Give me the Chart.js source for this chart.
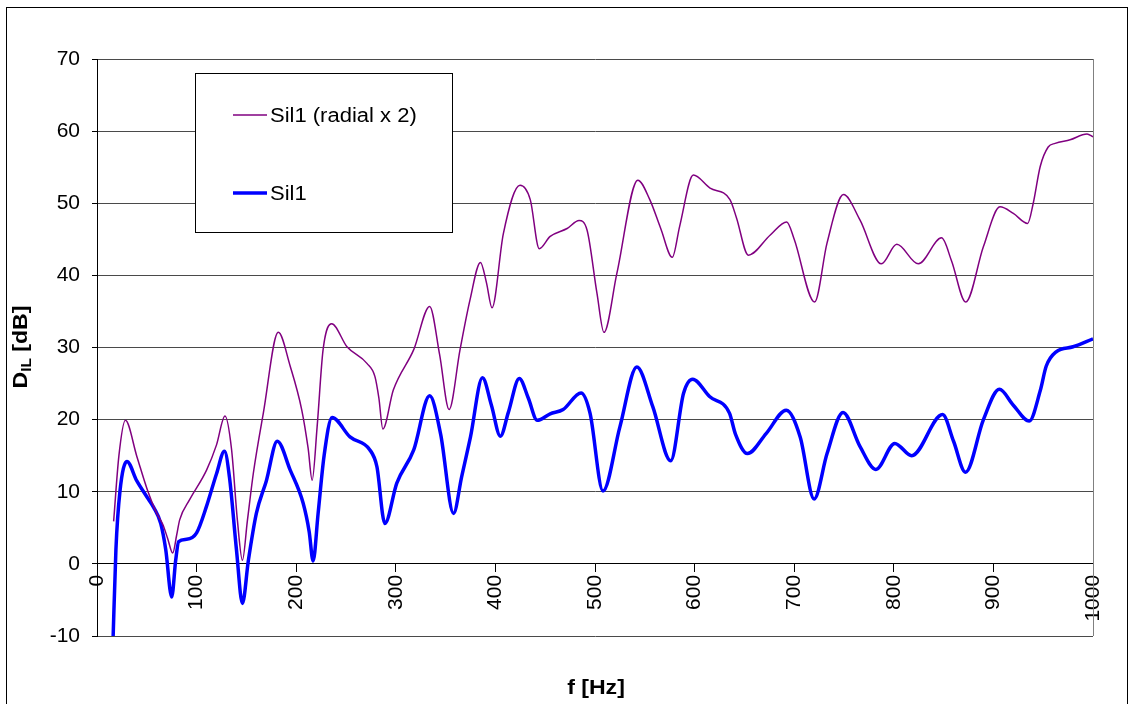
<!DOCTYPE html>
<html>
<head>
<meta charset="utf-8">
<script src="https://cdn.jsdelivr.net/npm/chart.js@4/dist/chart.umd.min.js"></script>
<style>
  body { margin: 0; background: #fff; }
  #wrap { width: 1132px; height: 704px; }
</style>
</head>
<body>
<div id="wrap"><canvas id="myChart" width="1132" height="704"></canvas></div>
<script>
// data
const radialFreq = [16.7, 22, 28.5, 40, 50, 60, 66, 71, 76, 80, 83, 93, 110, 120, 128.5, 135, 141, 146, 151, 157, 167, 182, 194, 205.5, 212, 216, 221, 227, 235.6, 251, 271, 279, 283, 287, 297.5, 318, 334, 344, 353.5, 364.5, 374.5, 385, 391, 396.6, 408, 424.7, 435, 444, 455, 472, 484, 492, 502, 509, 522, 543, 555, 566, 577.6, 585, 598.7, 615.5, 635.5, 642, 654, 676, 692.5, 700, 720.5, 733, 749.5, 766, 787.5, 803, 824.6, 848, 858, 872.2, 890, 906.6, 920, 934.4, 940, 947, 955, 962, 977, 994, 1000];
const radialValues = [5.9, 15, 19.9, 14.9, 10.5, 7, 5.5, 3.5, 1.5, 4, 6.1, 8.9, 13.0, 16.5, 20.5, 16, 6, 0.5, 6, 12.6, 20.9, 32.1, 27.4, 21.4, 16, 11.6, 19, 29.7, 33.3, 30.1, 27.8, 26.0, 23, 18.7, 24.1, 29.7, 35.7, 29, 21.4, 29.7, 36.6, 41.8, 39, 35.5, 45.8, 52.5, 50.5, 43.7, 45.4, 46.5, 47.6, 46.3, 37.5, 32.1, 40.3, 53.2, 50.5, 46.5, 42.5, 46.8, 53.9, 52.1, 50.5, 48, 42.8, 45.6, 47.4, 45, 36.3, 44.5, 51.2, 47.7, 41.6, 44.3, 41.6, 45.2, 42, 36.3, 44, 49.5, 48.6, 47.2, 50, 55.1, 57.8, 58.3, 58.8, 59.6, 59.2];

const sil1Freq = [16, 19, 23, 30, 40, 50, 57, 64, 69, 75, 79, 82, 90, 100, 110, 120, 128, 133, 140, 146, 152, 160, 170, 181, 194, 207, 213, 217, 222, 228, 236, 254, 274, 281, 289, 301, 318, 334, 345, 358, 366, 375, 387, 396, 405, 413, 424, 433, 442, 455, 468, 486, 495, 508, 525, 542, 558, 576, 589, 598, 615, 635, 641, 653, 672, 692, 706, 720, 733, 749, 766, 782, 801, 818, 849, 860, 872, 890, 906, 920, 936, 947, 953, 963, 980, 1000];
const sil1Values = [-11, 2, 10, 14.2, 11.5, 9.3, 7.8, 5.6, 2, -4.6, 0.5, 3.1, 3.4, 4.3, 8, 12.5, 15.6, 12, 2, -5.5, 0.5, 7, 11.5, 17.0, 13.0, 8.4, 4.5, 0.4, 7, 15, 20.3, 17.6, 15.8, 13.5, 5.6, 11.2, 15.8, 23.3, 18, 7.0, 12, 17.6, 25.8, 22, 17.7, 21, 25.7, 23, 19.9, 20.8, 21.4, 23.7, 20.9, 10.1, 19.0, 27.3, 21.8, 14.3, 23.7, 25.6, 23.2, 20.9, 18, 15.3, 18.1, 21.3, 17.6, 9.0, 15.3, 21.0, 16.3, 13.1, 16.7, 15.0, 20.7, 17, 12.7, 20, 24.2, 22, 19.8, 24, 27.4, 29.4, 30.1, 31.2];

const seriesNames = ["Sil1 (radial x 2)", "Sil1"];
const seriesColors = ["#800080", "#0000ff"];
const seriesWidths = [1.5, 3.5];

const yMin = -10, yMax = 70, yStep = 10;
const xMin = 0, xMax = 1000, xStep = 100;

const toPoints = (xs, ys) => xs.map((x, i) => ({ x: x, y: ys[i] }));

const FONT = "'Liberation Sans', Arial, sans-serif";
const STRETCH = 1.1; // the original text is a little wide

// borders, titles and the boxed legend
const decor = {
  id: "decor",
  beforeDraw(chart) {
    const c = chart.ctx;
    c.save();
    c.fillStyle = "#fff";
    c.fillRect(0, 0, chart.width, chart.height);
    c.strokeStyle = "#000";
    c.lineWidth = 1;
    c.strokeRect(6.5, 7.5, 1121, 720);
    c.restore();
  },
  afterDraw(chart) {
    const c = chart.ctx;
    const a = chart.chartArea;
    c.save();
    // right edge of plot area
    c.strokeStyle = "#808080";
    c.lineWidth = 1;
    c.beginPath();
    c.moveTo(Math.round(a.right) + 0.5, a.top);
    c.lineTo(Math.round(a.right) + 0.5, a.bottom);
    c.stroke();

    // legend box
    c.fillStyle = "#fff";
    c.fillRect(195.5, 73.5, 257, 159);
    c.strokeStyle = "#000";
    c.strokeRect(195.5, 73.5, 257, 159);
    const rows = [115, 193];
    c.font = "20px " + FONT;
    c.textBaseline = "middle";
    c.textAlign = "left";
    rows.forEach((y, i) => {
      c.strokeStyle = seriesColors[i];
      c.lineWidth = seriesWidths[i];
      c.beginPath();
      c.moveTo(233, y);
      c.lineTo(267, y);
      c.stroke();
      c.fillStyle = "#000";
      c.save();
      c.translate(270, y + 1);
      c.scale(STRETCH, 1);
      c.fillText(seriesNames[i], 0, 0);
      c.restore();
    });

    // x title
    c.save();
    c.fillStyle = "#000";
    c.font = "bold 21px " + FONT;
    c.textAlign = "center";
    c.textBaseline = "middle";
    c.translate(596, 688);
    c.scale(STRETCH, 1);
    c.fillText("f [Hz]", 0, 0);
    c.restore();

    // y title with subscript
    c.fillStyle = "#000";
    c.translate(21, 347);
    c.rotate(-Math.PI / 2);
    c.scale(STRETCH, 1);
    const big = "bold 21px " + FONT, small = "bold 14px " + FONT;
    c.font = big; const wD = c.measureText("D").width;
    c.font = small; const wIL = c.measureText("IL").width;
    c.font = big; const wRest = c.measureText(" [dB]").width;
    let x = -(wD + wIL + wRest) / 2;
    c.textAlign = "left";
    c.textBaseline = "middle";
    c.font = big; c.fillText("D", x, 0); x += wD;
    c.font = small; c.fillText("IL", x, 6); x += wIL;
    c.font = big; c.fillText(" [dB]", x, 0);
    c.restore();
  }
};

const ctx = document.getElementById("myChart").getContext("2d");
const myChart = new Chart(ctx, {
  type: "line",
  data: {
    datasets: [
      {
        label: seriesNames[0],
        data: toPoints(radialFreq, radialValues),
        borderColor: seriesColors[0],
        borderWidth: seriesWidths[0],
        pointRadius: 0,
        cubicInterpolationMode: "monotone",
        fill: false
      },
      {
        label: seriesNames[1],
        data: toPoints(sil1Freq, sil1Values),
        borderColor: seriesColors[1],
        borderWidth: seriesWidths[1],
        pointRadius: 0,
        cubicInterpolationMode: "monotone",
        fill: false
      }
    ]
  },
  options: {
    responsive: false,
    animation: false,
    layout: { padding: { left: 0, top: 59, right: 39, bottom: 68 } },
    plugins: {
      legend: { display: false },
      tooltip: { enabled: false }
    },
    scales: {
      x: {
        type: "linear",
        min: xMin,
        max: xMax,
        position: { y: 0 },
        ticks: {
          stepSize: xStep,
          minRotation: 90,
          maxRotation: 90,
          padding: 3,
          color: "#000",
          font: { family: FONT, size: 21 },
          callback: (v) => String(v)
        },
        grid: { drawOnChartArea: false, drawTicks: true, tickLength: 8, color: "#000" },
        border: { color: "#000", width: 1 }
      },
      y: {
        min: yMin,
        max: yMax,
        afterFit: (scale) => { scale.width = 97; },
        ticks: {
          stepSize: yStep,
          padding: 12,
          color: "#000",
          font: { family: FONT, size: 21 }
        },
        grid: {
          color: (c) => (c.tick && c.tick.value === 0 ? "#000" : "#4a4a4a"),
          tickLength: 5,
          tickColor: "#000"
        },
        border: { color: "#000", width: 1 }
      }
    }
  },
  plugins: [decor]
});
</script>
</body>
</html>
